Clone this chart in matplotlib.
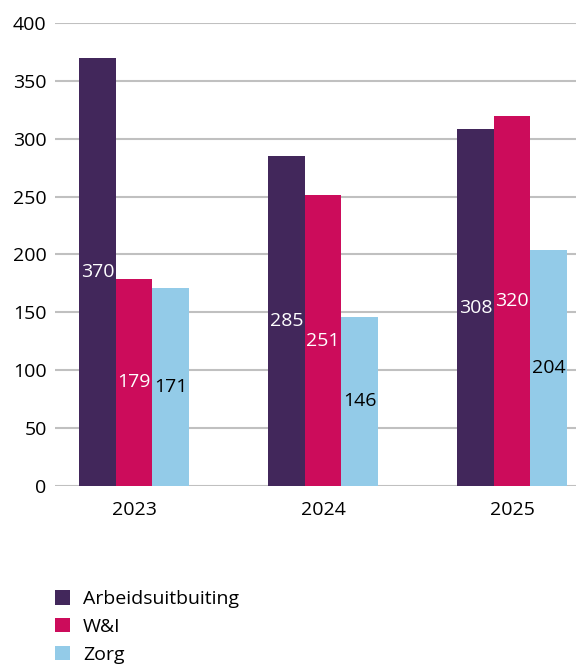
import numpy as np
import matplotlib
matplotlib.use("Agg")
import matplotlib.pyplot as plt

plt.rcParams['font.family'] = ['Open Sans', 'DejaVu Sans']

years = ['2023', '2024', '2025']
series = ['Arbeidsuitbuiting', 'W&I', 'Zorg']
arbeid = [370, 285, 308]
wi = [179, 251, 320]
zorg = [171, 146, 204]
colors = ['#42275b', '#cc0c5b', '#93cbe8']
label_colors = ['white', 'white', 'black']
fs = 14

fig = plt.figure(figsize=(5.76, 6.66), dpi=100)
ax = fig.add_axes([0.0955, 0.2703, 0.9045, 0.6952])

x = np.arange(len(years))
w = 0.193
handles = []
for i, (vals, col, lc) in enumerate(zip([arbeid, wi, zorg], colors, label_colors)):
    pos = x + (i - 1) * w
    b = ax.bar(pos, vals, w, color=col, zorder=3, label=series[i])
    handles.append(b)
    for p, v in zip(pos, vals):
        ax.text(p, v / 2, str(v), ha='center', va='center', color=lc,
                fontsize=fs, zorder=4)

ax.set_ylim(0, 400)
ax.set_xlim(-0.418, 2.339)
ax.set_yticks(range(0, 401, 50))
ax.set_xticks(x)
ax.set_xticklabels(years)
ax.tick_params(length=0, labelsize=fs, colors='black')
ax.tick_params(axis='y', pad=6)
ax.tick_params(axis='x', pad=11)
ax.yaxis.grid(True, color='#c0c0c0', linewidth=1.5, zorder=0)
for s in ax.spines.values():
    s.set_visible(False)

fig.legend(handles=handles, labels=series, loc='upper left',
           bbox_to_anchor=(0.095, 0.114), frameon=False, fontsize=fs,
           handlelength=0.78, handleheight=0.78, handletextpad=0.68,
           labelspacing=0.5, borderpad=0, borderaxespad=0)

fig.savefig('out.png', dpi=100)
